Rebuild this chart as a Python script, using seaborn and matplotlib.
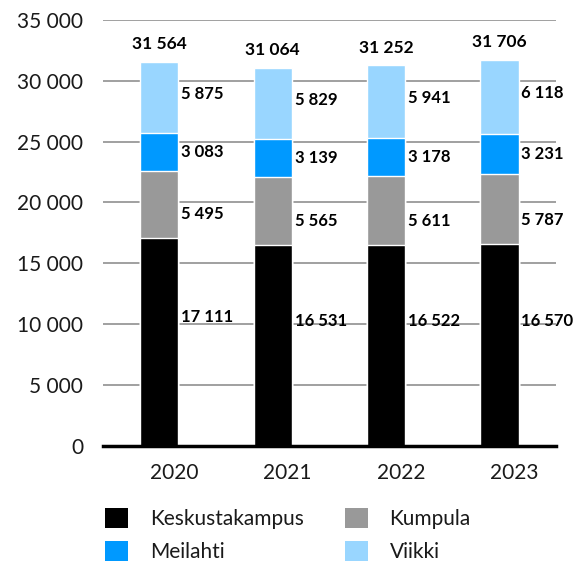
import numpy as np
import pandas as pd
import seaborn as sns
import matplotlib.pyplot as plt
from matplotlib.patches import Patch

years = ["2020", "2021", "2022", "2023"]
keskusta = [17111, 16531, 16522, 16570]
kumpula = [5495, 5565, 5611, 5787]
meilahti = [3083, 3139, 3178, 3231]
viikki = [5875, 5829, 5941, 6118]
totals = [31564, 31064, 31252, 31706]

series_names = ["Keskustakampus", "Kumpula", "Meilahti", "Viikki"]
series_colors = ["#000000", "#999999", "#0099FF", "#99D6FF"]
label_pos = [0.62, 0.35, 0.5, 0.55]  # where the value label sits inside each segment

sns.set_theme(style="white")
plt.rcParams["font.family"] = ["Lato", "DejaVu Sans"]


def fmt(v):
    return "{:,}".format(int(v)).replace(",", " ")


series = [keskusta, kumpula, meilahti, viikki]
cum = np.cumsum(np.array(series), axis=0)

df = pd.DataFrame({"year": years})
for k, name in enumerate(series_names):
    df[name] = cum[k]

fig = plt.figure(figsize=(5.74, 5.68), dpi=100)
ax = fig.add_axes([0.179, 0.215, 0.79, 0.75])

# draw the stack from the top segment down so each layer covers the one below
for k in range(len(series_names) - 1, -1, -1):
    sns.barplot(data=df, x="year", y=series_names[k], color=series_colors[k],
                width=0.336, saturation=1, ax=ax)
for p in ax.patches:
    p.set_zorder(3)

bw = 0.336
for i in range(len(years)):
    base = 0
    for k, vals in enumerate(series):
        v = vals[i]
        ax.text(i + bw / 2 + 0.025, base + v * label_pos[k], fmt(v),
                ha="left", va="center", fontsize=12, fontweight="bold",
                color="black", zorder=4)
        base += v
    ax.text(i, totals[i] + 800, fmt(totals[i]), ha="center", va="bottom",
            fontsize=12.5, fontweight="bold", color="black", zorder=4)

ax.set_xlim(-0.5, 3.5)
ax.set_ylim(0, 35000)
yt = np.arange(0, 35001, 5000)
ax.set_yticks(yt)
ax.set_yticklabels([fmt(v) for v in yt], fontsize=15, color="#1a1a1a")
ax.set_xticks(np.arange(len(years)) + 0.13)
ax.set_xticklabels(years, fontsize=15, color="#1a1a1a")
ax.tick_params(axis="y", length=0, pad=14)
ax.tick_params(axis="x", length=0, pad=12)
ax.set_xlabel("")
ax.set_ylabel("")
ax.yaxis.grid(True, color="#999999", linewidth=1.3, zorder=0)
ax.set_axisbelow(True)
for s in ["top", "right", "left"]:
    ax.spines[s].set_visible(False)
ax.spines["bottom"].set_color("black")
ax.spines["bottom"].set_linewidth(2.5)
ax.spines["bottom"].set_zorder(5)

# legend fills column-wise, so order entries to read row by row
order = [0, 2, 1, 3]
handles = [Patch(facecolor=series_colors[k], edgecolor="none") for k in order]
labels = [series_names[k] for k in order]
fig.legend(handles, labels, ncol=2, loc="upper left",
           bbox_to_anchor=(0.151, 0.139), frameon=False, fontsize=15,
           handlelength=1.1, handleheight=1.1, handletextpad=1.05,
           columnspacing=1.95, labelspacing=0.6, labelcolor="#1a1a1a")

fig.savefig("out.png", dpi=100)
